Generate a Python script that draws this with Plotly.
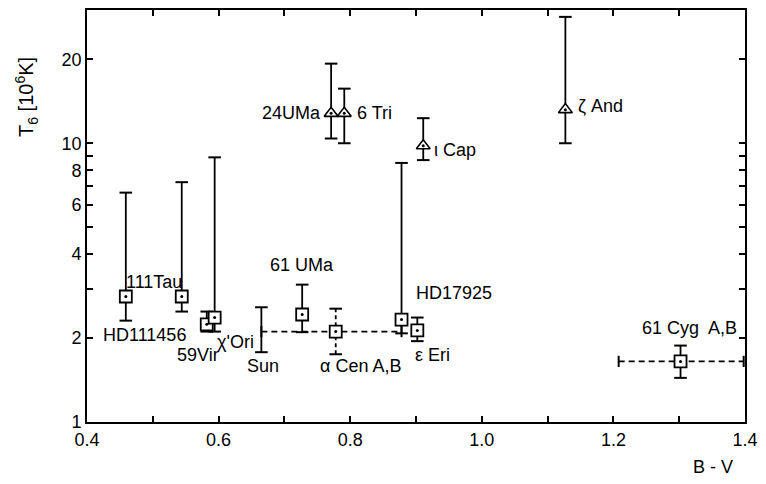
import numpy as np
import plotly.graph_objects as go

# ---------------- data ----------------
# Dwarfs plotted with squares
sq_names = ["HD111456", "111Tau", "59Vir", "χ'Ori", "61 UMa", "α Cen A,B",
            "HD17925", "ε Eri", "61 Cyg  A,B"]
sq_bv = [0.459, 0.544, 0.582, 0.594, 0.727, 0.778, 0.878, 0.902, 1.302]
sq_t6 = [2.82, 2.82, 2.24, 2.37, 2.43, 2.11, 2.33, 2.13, 1.65]
sq_t6_lo = [2.31, 2.49, 2.11, 2.11, 2.10, 1.75, 2.08, 1.95, 1.44]
sq_t6_hi = [6.65, 7.25, 2.49, 8.90, 3.11, 2.55, 8.50, 2.37, 1.88]
sq_bv_lo = [None, None, None, None, None, 0.665, None, None, 1.208]
sq_bv_hi = [None, None, None, None, None, 0.878, None, None, 1.398]

# Stars plotted with triangles
tri_names = ["24UMa", "6 Tri", "ι Cap", "ζ And"]
tri_bv = [0.771, 0.791, 0.911, 1.127]
tri_t6 = [12.8, 12.8, 9.8, 13.2]
tri_t6_lo = [10.4, 10.0, 8.7, 10.0]
tri_t6_hi = [19.3, 15.7, 12.3, 28.4]

# The Sun (range only, no symbol)
sun_name = "Sun"
sun_bv = 0.665
sun_t6 = 2.12
sun_t6_lo = 1.78
sun_t6_hi = 2.58

x_tick_vals = [0.4, 0.6, 0.8, 1.0, 1.2, 1.4]
x_tick_text = ["0.4", "0.6", "0.8", "1.0", "1.2", "1.4"]
x_minor_vals = [0.5, 0.7, 0.9, 1.1, 1.3]
y_tick_vals = [1, 2, 4, 6, 8, 10, 20]
y_tick_text = ["1", "2", "4", "6", "8", "10", "20"]
y_minor_vals = [3, 5, 7, 9]

# ---------------- styling ----------------
dashed_y = {"α Cen A,B"}
FONT = "Liberation Sans, Arial, Helvetica, sans-serif"
LW = 1.8
BLACK = "black"

fig = go.Figure()


def vsegs(xs, los, his):
    X, Y = [], []
    for x, lo, hi in zip(xs, los, his):
        X += [x, x, None]
        Y += [lo, hi, None]
    return X, Y


def hsegs(ys, los, his):
    X, Y = [], []
    for y, lo, hi in zip(ys, los, his):
        X += [lo, hi, None]
        Y += [y, y, None]
    return X, Y


# vertical error bars
all_names = sq_names + tri_names + [sun_name]
all_bv = sq_bv + tri_bv + [sun_bv]
all_lo = sq_t6_lo + tri_t6_lo + [sun_t6_lo]
all_hi = sq_t6_hi + tri_t6_hi + [sun_t6_hi]

solid = [i for i, n in enumerate(all_names) if n not in dashed_y]
dash = [i for i, n in enumerate(all_names) if n in dashed_y]

X, Y = vsegs([all_bv[i] for i in solid], [all_lo[i] for i in solid], [all_hi[i] for i in solid])
fig.add_trace(go.Scatter(x=X, y=Y, mode="lines", line=dict(color=BLACK, width=LW),
                         hoverinfo="skip", showlegend=False))
X, Y = vsegs([all_bv[i] for i in dash], [all_lo[i] for i in dash], [all_hi[i] for i in dash])
fig.add_trace(go.Scatter(x=X, y=Y, mode="lines", line=dict(color=BLACK, width=LW, dash="4px,3px"),
                         hoverinfo="skip", showlegend=False))

# vertical caps
fig.add_trace(go.Scatter(x=all_bv + all_bv, y=all_lo + all_hi, mode="markers",
                         marker=dict(symbol="line-ew", size=9,
                                     line=dict(color=BLACK, width=2)),
                         hoverinfo="skip", showlegend=False))

# horizontal (B-V) ranges, dashed
hx = [i for i, v in enumerate(sq_bv_lo) if v is not None]
X, Y = hsegs([sq_t6[i] for i in hx], [sq_bv_lo[i] for i in hx], [sq_bv_hi[i] for i in hx])
fig.add_trace(go.Scatter(x=X, y=Y, mode="lines", line=dict(color=BLACK, width=LW, dash="6px,4px"),
                         hoverinfo="skip", showlegend=False))
fig.add_trace(go.Scatter(x=[sq_bv_lo[i] for i in hx] + [sq_bv_hi[i] for i in hx],
                         y=[sq_t6[i] for i in hx] * 2, mode="markers",
                         marker=dict(symbol="line-ns", size=8,
                                     line=dict(color=BLACK, width=2)),
                         hoverinfo="skip", showlegend=False))

# symbols
fig.add_trace(go.Scatter(x=sq_bv, y=sq_t6, mode="markers", text=sq_names,
                         marker=dict(symbol="square", size=12, color="white",
                                     line=dict(color=BLACK, width=1.8)),
                         showlegend=False))
fig.add_trace(go.Scatter(x=tri_bv, y=tri_t6, mode="markers", text=tri_names,
                         marker=dict(symbol="triangle-up", size=12, color="white",
                                     line=dict(color=BLACK, width=1.6)),
                         showlegend=False))
fig.add_trace(go.Scatter(x=sq_bv + tri_bv, y=sq_t6 + tri_t6, mode="markers",
                         marker=dict(symbol="circle", size=3, color=BLACK),
                         hoverinfo="skip", showlegend=False))

# ---------------- labels ----------------
# (xanchor, xshift, yshift) relative to the star's point, in pixels
label_layout = {
    "HD111456": ("center", 19, -39),
    "111Tau": ("center", -28, 14),
    "59Vir": ("center", -9, -31),
    "χ'Ori": ("center", 21, -24),
    "61 UMa": ("center", 0, 50),
    "α Cen A,B": ("center", 25, -34),
    "HD17925": ("center", 52, 27),
    "ε Eri": ("center", 15, -25),
    "61 Cyg  A,B": ("center", 9, 33),
    "24UMa": ("right", -8, 0),
    "6 Tri": ("left", 11, 0),
    "ι Cap": ("left", 9, -4),
    "ζ And": ("left", 11, 4),
    "Sun": ("center", 2, -35),
}

pts = {n: (b, t) for n, b, t in zip(sq_names, sq_bv, sq_t6)}
pts.update({n: (b, t) for n, b, t in zip(tri_names, tri_bv, tri_t6)})
pts[sun_name] = (sun_bv, sun_t6)

for name, (xa, xs, ys) in label_layout.items():
    bx, ty = pts[name]
    fig.add_annotation(x=bx, y=np.log10(ty), xref="x", yref="y", text=name,
                       showarrow=False, xanchor=xa, yanchor="middle",
                       xshift=xs, yshift=ys,
                       font=dict(family=FONT, size=18, color=BLACK))

# axis titles
fig.add_annotation(x=-0.092, y=0.79, xref="paper", yref="paper",
                   xanchor="center", yanchor="middle",
                   text="T<sub>6</sub> [10<sup>6</sup>K]", textangle=-90,
                   showarrow=False, font=dict(family=FONT, size=20, color=BLACK))
fig.add_annotation(x=0.952, y=-0.11, xref="paper", yref="paper", text="B - V",
                   xanchor="center", yanchor="middle",
                   showarrow=False, font=dict(family=FONT, size=18, color=BLACK))

axis_common = dict(ticks="inside", ticklen=6, tickwidth=1.5, tickcolor=BLACK,
                   showline=True, linecolor=BLACK, linewidth=1.8, mirror="ticks",
                   showgrid=False, zeroline=False,
                   tickfont=dict(family=FONT, size=18, color=BLACK))

fig.update_xaxes(range=[0.4, 1.4], tickmode="array", tickvals=x_tick_vals, ticktext=x_tick_text,
                 minor=dict(tickmode="array", tickvals=x_minor_vals, ticks="inside",
                            ticklen=6, tickwidth=1.5, tickcolor=BLACK, showgrid=False),
                 **axis_common)
fig.update_yaxes(type="log", range=[0, 1.478], tickmode="array",
                 tickvals=y_tick_vals, ticktext=y_tick_text,
                 minor=dict(tickmode="array", tickvals=y_minor_vals, ticks="inside",
                            ticklen=6, tickwidth=1.5, tickcolor=BLACK, showgrid=False),
                 **axis_common)

fig.update_layout(width=766, height=484, paper_bgcolor="white", plot_bgcolor="white",
                  margin=dict(l=87, r=18, t=8, b=62), showlegend=False,
                  font=dict(family=FONT, color=BLACK))

fig.write_html("out.html")
